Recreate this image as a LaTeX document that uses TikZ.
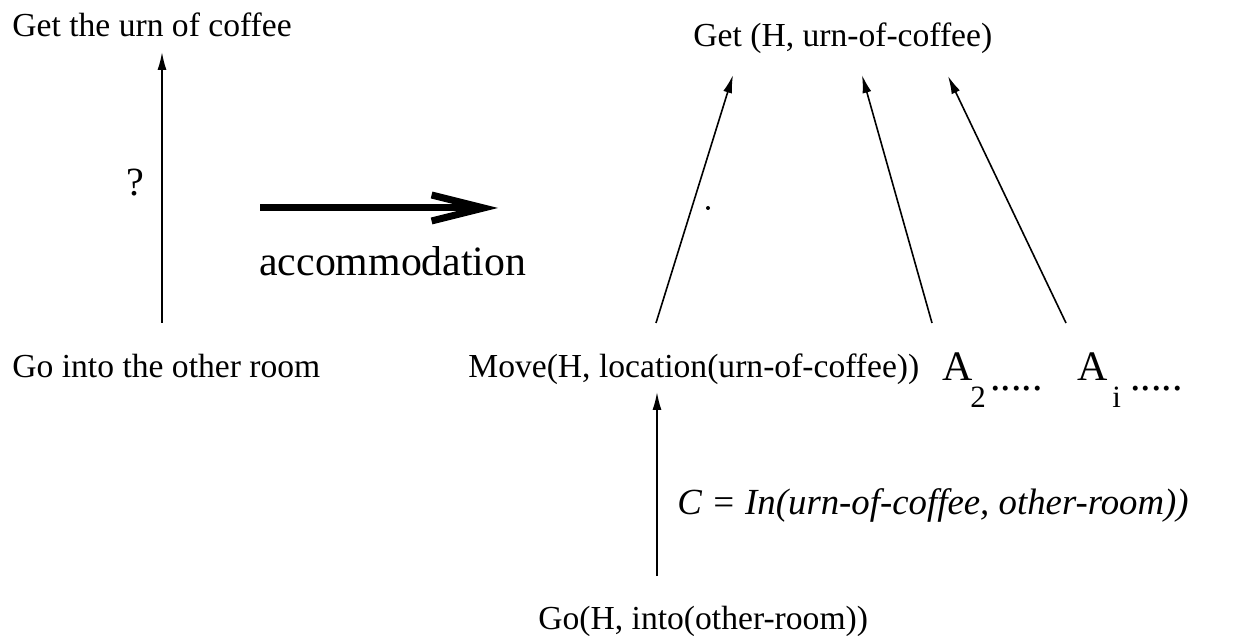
\documentclass[tikz,border=0pt]{standalone}
\usepackage{fontspec}
\setmainfont{Liberation Serif}
\usetikzlibrary{arrows.meta}
\begin{document}
\begin{tikzpicture}[x=0.5pt,y=-0.5pt,
  lbl/.style={inner sep=0pt, anchor=base west, font=\fontsize{16.8}{20}\selectfont},
  big/.style={inner sep=0pt, anchor=base west, font=\fontsize{21}{25}\selectfont},
  sub/.style={inner sep=0pt, anchor=base west, font=\fontsize{15.5}{18}\selectfont},
  cond/.style={inner sep=0pt, anchor=base west, font=\fontsize{18.4}{22}\selectfont\itshape},
  link/.style={line width=0.8pt, -{Latex[length=9pt,width=4.5pt]}},
  fat/.style={line width=3.5pt, -{Straight Barb[length=26pt,width=13pt]}}]
\useasboundingbox (0,0) rectangle (1238,636);

% left-hand plan fragment
\node[lbl] (getL) at (12,37) {Get the urn of coffee};
\node[lbl] (goL) at (12,378) {Go into the other room};
\node[inner sep=0pt, font=\fontsize{20}{24}\selectfont] (qm) at (135,183) {?};
\coordinate (goL-top) at (162,323);
\coordinate (getL-bot) at (162,52);
\draw[link] (goL-top) -- (getL-bot);

% accommodation step
\coordinate (acc-from) at (260,208);
\coordinate (acc-to) at (498,208);
\draw[fat] (acc-from) -- (acc-to);
\node[inner sep=0pt, anchor=base west, font=\fontsize{20.9}{25}\selectfont] (acc) at (259,276) {accommodation};

% right-hand plan
\node[lbl] (getR) at (693,47) {Get (H, urn-of-coffee)};
\node[lbl] (move) at (468,378) {Move(H, location(urn-of-coffee))};
\node[big] (A2) at (942,380) {A};
\node[sub] (A2s) at (970,408) {2};
\node[big] (A2d) at (990,391) {.....};
\node[big] (Ai) at (1077,380) {A};
\node[sub] (Ais) at (1112,408) {i};
\node[big] (Aid) at (1130,391) {.....};
\node[lbl] (goR) at (538,629) {Go(H, into(other-room))};
\node[cond] (cnd) at (677,514) {C = In(urn-of-coffee, other-room))};

\coordinate (move-top) at (656,323);
\coordinate (A2-top) at (932,323);
\coordinate (Ai-top) at (1066,323);
\coordinate (getR-in1) at (733,75);
\coordinate (getR-in2) at (862,75);
\coordinate (getR-in3) at (948,76);
\draw[link] (move-top) -- (getR-in1);
\draw[link] (A2-top) -- (getR-in2);
\draw[link] (Ai-top) -- (getR-in3);

\coordinate (goR-top) at (657,576);
\coordinate (move-bot) at (657,392);
\draw[link] (goR-top) -- (move-bot);

% small speck
\fill (708,208) circle (2);
\end{tikzpicture}
\end{document}
